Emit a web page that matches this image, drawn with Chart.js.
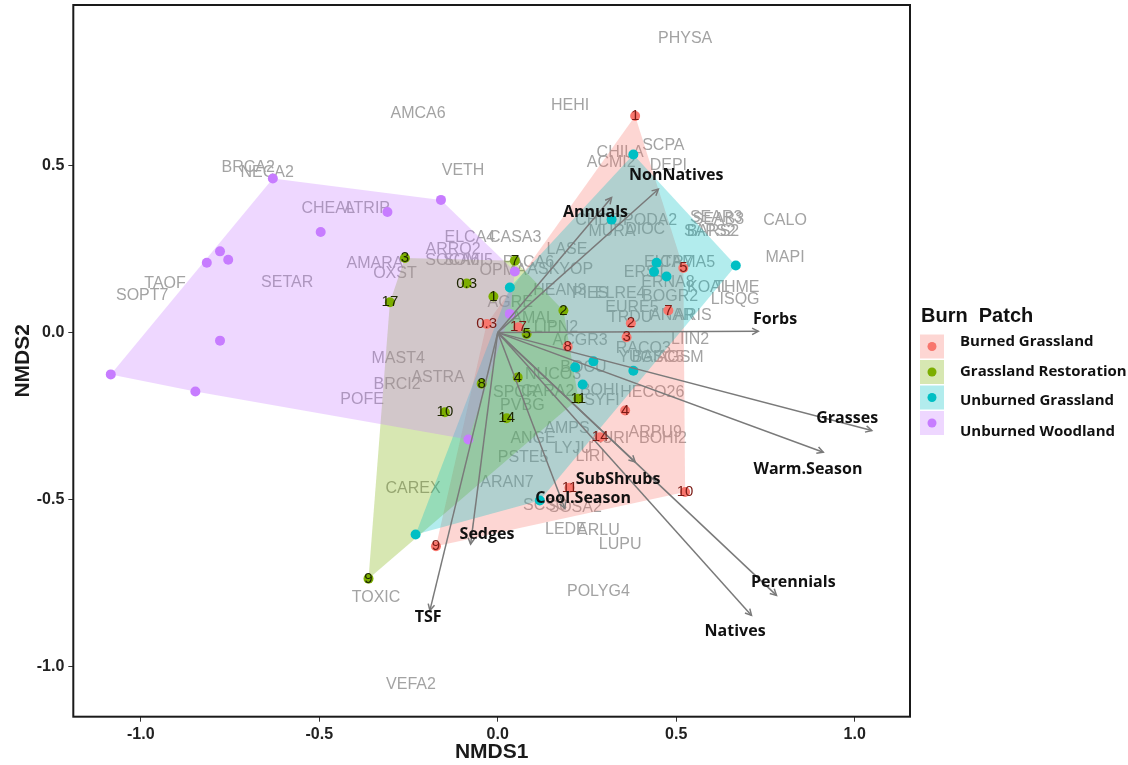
<!DOCTYPE html>
<html><head><meta charset="utf-8">
<script src="https://cdn.jsdelivr.net/npm/chart.js@4"></script>
<style>html,body{margin:0;padding:0;background:#fff;}#wrap{width:1128px;height:765px;position:relative;}</style>
</head><body><div id="wrap"><canvas id="c" width="1128" height="765"></canvas></div>
<script>
// ---------- data ----------
const xTicks = [-1.0, -0.5, 0.0, 0.5, 1.0];
const yTicks = [-1.0, -0.5, 0.0, 0.5];
const groupNames = ['Burned Grassland', 'Grassland Restoration', 'Unburned Grassland', 'Unburned Woodland'];

const burnedLabels = ['1','5','7','2','3','8','17','0.3','4','14','10','11','9'];
const burnedX = [0.385, 0.520, 0.478, 0.373, 0.361, 0.196, 0.058, -0.031, 0.357, 0.287, 0.525, 0.201, -0.173];
const burnedY = [0.648, 0.193, 0.066, 0.028, -0.014, -0.042, 0.016, 0.026, -0.233, -0.313, -0.477, -0.464, -0.639];

const restLabels = ['3','0.3','17','1','7','2','5','8','4','10','14','11','9'];
const restX = [-0.260, -0.087, -0.302, -0.012, 0.048, 0.184, 0.081, -0.045, 0.056, -0.148, 0.025, 0.226, -0.362];
const restY = [0.223, 0.147, 0.091, 0.108, 0.215, 0.066, -0.004, -0.153, -0.134, -0.238, -0.256, -0.198, -0.736];

const unGrassX = [0.380, 0.319, 0.445, 0.438, 0.473, 0.667, 0.034, 0.217, 0.268, 0.238, 0.380, 0.118, -0.230];
const unGrassY = [0.533, 0.338, 0.209, 0.182, 0.168, 0.201, 0.135, -0.104, -0.086, -0.155, -0.114, -0.502, -0.604];

const woodX = [-0.630, -0.159, -0.309, -0.496, -0.778, -0.815, -0.755, -0.778, -1.084, -0.847, -0.082, 0.048, 0.034];
const woodY = [0.461, 0.397, 0.361, 0.301, 0.243, 0.209, 0.218, -0.024, -0.125, -0.176, -0.320, 0.183, 0.056];

const speciesNames = ['PHYSA','HEHI','AMCA6','VETH','BRCA2','NECA2','CHEAL','ATRIP','CALO','MAPI',
  'SEAB3','SEAR3','BARS2','SAPS2','SCPA','CHILA','ACMI2','DEPI','CHDO','PODA2','MURA','DIOC',
  'ELCA4','CASA3','ARRO2','SOCA6','SOMI5','PACA6','OPMA','ASKYOP','LASE','HEAN3','PIES','ELRE4',
  'ERNA8','ERST','BOGR2','KOAL','THME','LISQG','ELTR7','CAMA5','EURE5','TRDU','ANAR','ARIS',
  'LIIN2','RACO3','YUGL','BASC5','AGSM','ACGR3','LIPN2','AGRE','AMAL','BOCU','NUCO3','SPCR','CARA2',
  'PVBG','BOHI','HECO26','SYFI','AMPS','ANGE','LYJU','LIRI','AURI','ARPU9','BOHI2','PSTE5','ARAN7',
  'CAREX','SCSC','SOSA2','LEDE','ARLU','LUPU','POLYG4','TOXIC','VEFA2','SETAR','TAOF','SOPT7',
  'AMARA','OXST','MAST4','ASTRA','BRCI2','POFE'];
const speciesX = [0.525,0.203,-0.223,-0.097,-0.699,-0.646,-0.475,-0.366,0.805,0.805,
  0.618,0.612,0.603,0.594,0.464,0.343,0.318,0.478,0.283,0.427,0.320,0.413,
  -0.078,0.049,-0.125,-0.127,-0.083,0.086,0.015,0.175,0.194,0.174,0.259,0.343,
  0.477,0.413,0.483,0.590,0.670,0.665,0.478,0.532,0.376,0.371,0.489,0.547,
  0.539,0.408,0.399,0.449,0.511,0.231,0.163,0.035,0.099,0.240,0.155,0.049,0.140,
  0.069,0.285,0.433,0.292,0.194,0.099,0.211,0.259,0.315,0.441,0.463,0.071,0.026,
  -0.237,0.133,0.217,0.191,0.282,0.343,0.282,-0.341,-0.243,-0.590,-0.932,-0.996,
  -0.344,-0.288,-0.279,-0.167,-0.282,-0.380];
const speciesY = [0.879,0.678,0.654,0.484,0.493,0.478,0.370,0.370,0.335,0.224,
  0.338,0.344,0.302,0.302,0.559,0.538,0.508,0.499,0.335,0.335,0.301,0.307,
  0.284,0.284,0.248,0.215,0.215,0.209,0.185,0.188,0.248,0.125,0.117,0.117,
  0.149,0.179,0.108,0.134,0.134,0.099,0.209,0.209,0.075,0.045,0.051,0.051,
  -0.021,-0.048,-0.075,-0.075,-0.075,-0.024,0.015,0.090,0.042,-0.105,-0.125,-0.179,-0.176,
  -0.218,-0.173,-0.179,-0.203,-0.287,-0.317,-0.347,-0.370,-0.317,-0.299,-0.317,-0.373,-0.448,
  -0.466,-0.517,-0.523,-0.589,-0.592,-0.633,-0.774,-0.792,-1.054,0.149,0.146,0.111,
  0.206,0.176,-0.078,-0.134,-0.155,-0.200];

const vectorNames = ['Annuals','NonNatives','Forbs','Grasses','Warm.Season','SubShrubs','Cool.Season','Sedges','TSF','Perennials','Natives'];
const vectorX = [0.319, 0.450, 0.730, 1.048, 0.912, 0.385, 0.188, -0.076, -0.190, 0.781, 0.711];
const vectorY = [0.404, 0.429, 0.004, -0.293, -0.358, -0.387, -0.526, -0.633, -0.831, -0.786, -0.846];
const vectorLabelX = [0.274, 0.500, 0.777, 0.979, 0.869, 0.337, 0.239, -0.030, -0.195, 0.828, 0.665];
const vectorLabelY = [0.359, 0.469, 0.039, -0.257, -0.409, -0.439, -0.496, -0.604, -0.852, -0.747, -0.893];

// ---------- styling ----------
const groupColors = ['#F8766D', '#7CAE00', '#00BFC4', '#C77CFF'];
const groupFills = ['rgba(248,118,109,0.3)', 'rgba(124,174,0,0.3)', 'rgba(0,191,196,0.3)', 'rgba(199,124,255,0.3)'];
const SANS = '"Liberation Sans", Arial, sans-serif';

const groups = [
  {x: burnedX, y: burnedY, labels: burnedLabels, labelColor: '#7a1a14'},
  {x: restX, y: restY, labels: restLabels, labelColor: '#1c2400'},
  {x: unGrassX, y: unGrassY, labels: null},
  {x: woodX, y: woodY, labels: null}
];

function convexHull(points) {
  const p = points.slice().sort((a, b) => a.x - b.x || a.y - b.y);
  const cross = (o, a, b) => (a.x - o.x) * (b.y - o.y) - (a.y - o.y) * (b.x - o.x);
  const lower = [], upper = [];
  for (const q of p) { while (lower.length >= 2 && cross(lower[lower.length-2], lower[lower.length-1], q) <= 0) lower.pop(); lower.push(q); }
  for (let i = p.length - 1; i >= 0; i--) { const q = p[i]; while (upper.length >= 2 && cross(upper[upper.length-2], upper[upper.length-1], q) <= 0) upper.pop(); upper.push(q); }
  upper.pop(); lower.pop();
  return lower.concat(upper);
}

const datasets = [];
vectorNames.forEach((n, i) => {
  datasets.push({type: 'scatter', label: n, data: [{x: 0, y: 0}, {x: vectorX[i], y: vectorY[i]}],
    showLine: true, borderColor: '#7a7a7a', borderWidth: 1.5, pointRadius: 0, fill: false});
});
groups.forEach((g, gi) => {
  datasets.push({type: 'scatter', label: groupNames[gi], data: g.x.map((v, i) => ({x: v, y: g.y[i]})),
    pointRadius: 5, pointBackgroundColor: groupColors[gi], pointBorderWidth: 0, showLine: false});
});

const drawPlugin = {
  id: 'nmdsDraw',
  beforeDatasetsDraw(chart) {
    const {ctx, scales: {x, y}, chartArea} = chart;
    ctx.save();
    ctx.beginPath(); ctx.rect(chartArea.left, chartArea.top, chartArea.right - chartArea.left, chartArea.bottom - chartArea.top); ctx.clip();
    ctx.font = '16px ' + SANS; ctx.fillStyle = '#a3a3a3'; ctx.textAlign = 'center'; ctx.textBaseline = 'middle';
    speciesNames.forEach((n, i) => ctx.fillText(n, x.getPixelForValue(speciesX[i]), y.getPixelForValue(speciesY[i])));
    groups.forEach((g, gi) => {
      const h = convexHull(g.x.map((v, i) => ({x: v, y: g.y[i]})));
      ctx.beginPath();
      h.forEach((p, k) => { const px = x.getPixelForValue(p.x), py = y.getPixelForValue(p.y); k ? ctx.lineTo(px, py) : ctx.moveTo(px, py); });
      ctx.closePath(); ctx.fillStyle = groupFills[gi]; ctx.fill();
    });
    ctx.restore();
  },
  afterDatasetsDraw(chart) {
    const {ctx, scales: {x, y}} = chart;
    ctx.save();
    const ox = x.getPixelForValue(0), oy = y.getPixelForValue(0);
    ctx.strokeStyle = '#7a7a7a'; ctx.lineWidth = 1.5;
    vectorNames.forEach((n, i) => {
      const tx = x.getPixelForValue(vectorX[i]), ty = y.getPixelForValue(vectorY[i]);
      const a = Math.atan2(ty - oy, tx - ox), L = 7, w = Math.PI / 6.5;
      ctx.beginPath();
      ctx.moveTo(tx - L * Math.cos(a - w), ty - L * Math.sin(a - w));
      ctx.lineTo(tx, ty);
      ctx.lineTo(tx - L * Math.cos(a + w), ty - L * Math.sin(a + w));
      ctx.stroke();
    });
    ctx.font = '15px ' + SANS; ctx.textAlign = 'center'; ctx.textBaseline = 'middle';
    groups.forEach(g => {
      if (!g.labels) return;
      ctx.fillStyle = g.labelColor;
      g.labels.forEach((l, i) => ctx.fillText(l, x.getPixelForValue(g.x[i]), y.getPixelForValue(g.y[i])));
    });
    ctx.font = 'bold 16px "Open Sans", sans-serif'; ctx.fillStyle = '#111';
    vectorNames.forEach((n, i) => ctx.fillText(n, x.getPixelForValue(vectorLabelX[i]), y.getPixelForValue(vectorLabelY[i])));
    ctx.restore();
  },
  afterDraw(chart) {
    const {ctx, chartArea: ca} = chart;
    ctx.save();
    ctx.strokeStyle = '#1a1a1a'; ctx.lineWidth = 2;
    ctx.strokeRect(ca.left, ca.top, ca.right - ca.left, ca.bottom - ca.top);
    ctx.textAlign = 'left'; ctx.textBaseline = 'middle'; ctx.fillStyle = '#111';
    ctx.font = 'bold 20px ' + SANS;
    ctx.fillText('Burn  Patch', 921, 316);
    const keyY = [346.5, 372, 397.5, 423];
    const textY = [341.5, 371.5, 400.5, 432];
    groupNames.forEach((n, i) => {
      ctx.fillStyle = groupFills[i]; ctx.fillRect(920, keyY[i] - 12, 24, 24);
      ctx.fillStyle = groupColors[i]; ctx.beginPath(); ctx.arc(932, keyY[i], 4.5, 0, 2 * Math.PI); ctx.fill();
      ctx.fillStyle = '#111'; ctx.font = 'bold 15px "Open Sans", sans-serif';
      ctx.fillText(n, 960, textY[i]);
    });
    ctx.restore();
  }
};

const tickFont = {family: SANS, size: 16, weight: 'bold'};
new Chart(document.getElementById('c'), {
  type: 'scatter',
  data: {datasets},
  options: {
    responsive: false, animation: false, devicePixelRatio: 1,
    layout: {padding: {left: 0, right: 218, top: 4, bottom: 0}},
    plugins: {legend: {display: false}, tooltip: {enabled: false}},
    scales: {
      x: {
        type: 'linear', min: -1.189, max: 1.155,
        afterBuildTicks: s => { s.ticks = xTicks.map(v => ({value: v})); },
        afterFit: s => { s.height = 48.3; s.paddingLeft = 0; s.paddingRight = 0; },
        ticks: {font: tickFont, color: '#222', padding: 3, callback: v => Number(v).toFixed(1)},
        grid: {drawOnChartArea: false, drawTicks: true, tickLength: 5, color: '#333', lineWidth: 1},
        border: {display: false},
        title: {display: true, text: 'NMDS1', font: {family: SANS, size: 21, weight: 'bold'}, color: '#1a1a1a', padding: {top: 0, bottom: 0}}
      },
      y: {
        type: 'linear', min: -1.149, max: 0.980,
        afterBuildTicks: s => { s.ticks = yTicks.map(v => ({value: v})); },
        afterFit: s => { s.width = 73.3; s.paddingTop = 0; s.paddingBottom = 0; },
        ticks: {font: tickFont, color: '#222', padding: 4, callback: v => Number(v).toFixed(1)},
        grid: {drawOnChartArea: false, drawTicks: true, tickLength: 5, color: '#333', lineWidth: 1},
        border: {display: false},
        title: {display: true, text: 'NMDS2', font: {family: SANS, size: 21, weight: 'bold'}, color: '#1a1a1a', padding: {top: 11, bottom: 0}}
      }
    }
  },
  plugins: [drawPlugin]
});
</script>
</body></html>
